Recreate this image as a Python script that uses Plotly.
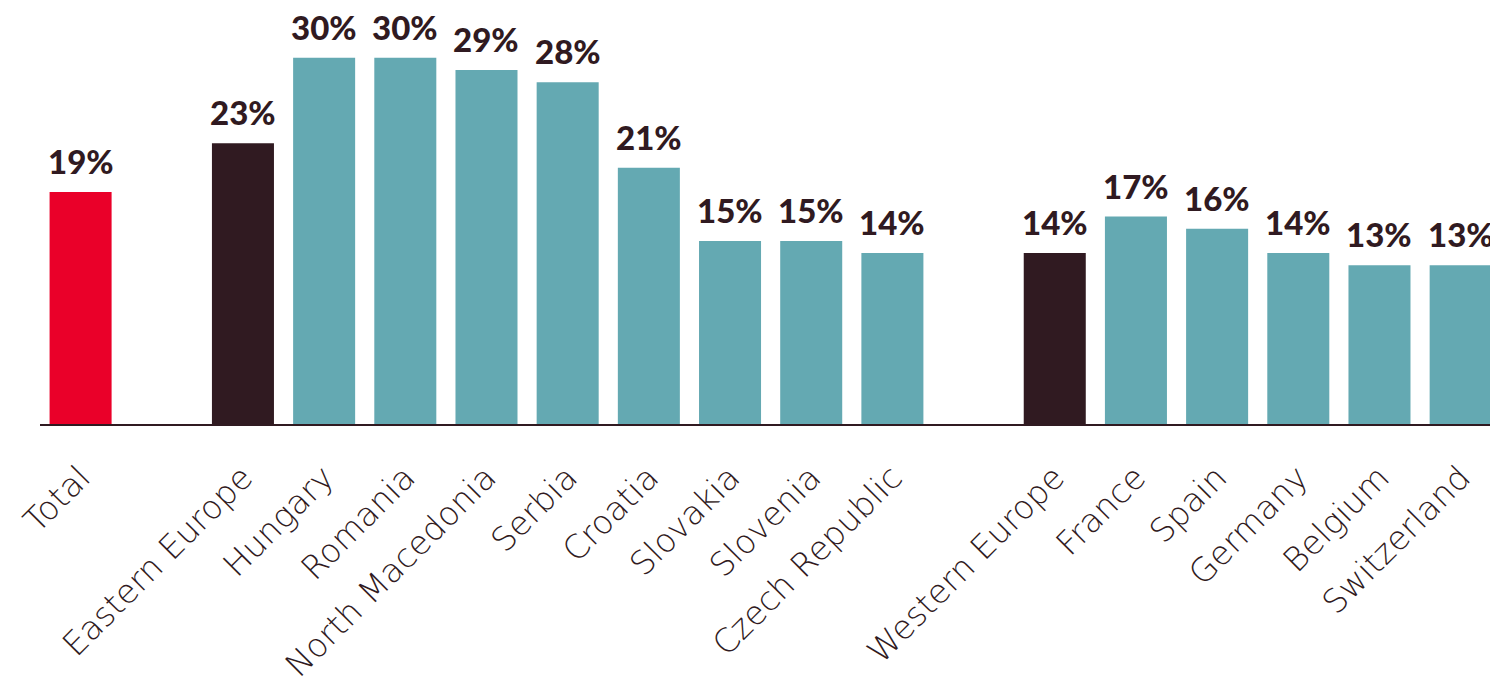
import plotly.graph_objects as go

categories = ["Total", " ", "Eastern Europe", "Hungary", "Romania", "North Macedonia",
              "Serbia", "Croatia", "Slovakia", "Slovenia", "Czech Republic", "  ",
              "Western Europe", "France", "Spain", "Germany", "Belgium", "Switzerland"]
values = [19, None, 23, 30, 30, 29, 28, 21, 15, 15, 14, None, 14, 17, 16, 14, 13, 13]
kinds = ["total", None, "region", "country", "country", "country", "country", "country",
         "country", "country", "country", None, "region", "country", "country", "country",
         "country", "country"]

color_map = {"total": "#EA0029", "region": "#301A21", "country": "#64A9B2", None: "#FFFFFF"}
colors = [color_map[k] for k in kinds]
TEXT = "#301A21"

fig = go.Figure()
fig.add_trace(go.Bar(
    x=categories, y=values, marker=dict(color=colors, line=dict(width=0)),
    hoverinfo="skip",
))
for c, v in zip(categories, values):
    if v is None:
        continue
    fig.add_annotation(x=c, y=v, text=f"{v}%", showarrow=False, yanchor="bottom",
                       yshift=9, font=dict(family="Lato", size=33, color=TEXT, weight=900))

fig.update_layout(
    width=1490, height=675,
    margin=dict(l=32, r=0, t=1, b=259),
    paper_bgcolor="white", plot_bgcolor="white",
    bargap=0.236, showlegend=False,
    xaxis=dict(type="category", range=[-0.5, 17.46], showline=True, linecolor=TEXT,
               linewidth=2, ticks="", tickangle=-45, automargin=False,
               ticklabelstandoff=19,
               tickfont=dict(family="DejaVu Sans", size=33, color=TEXT, weight=200),
               showgrid=False, zeroline=False),
    yaxis=dict(range=[0, 34], visible=False, showgrid=False, zeroline=False),
)
fig.write_html("out.html")
